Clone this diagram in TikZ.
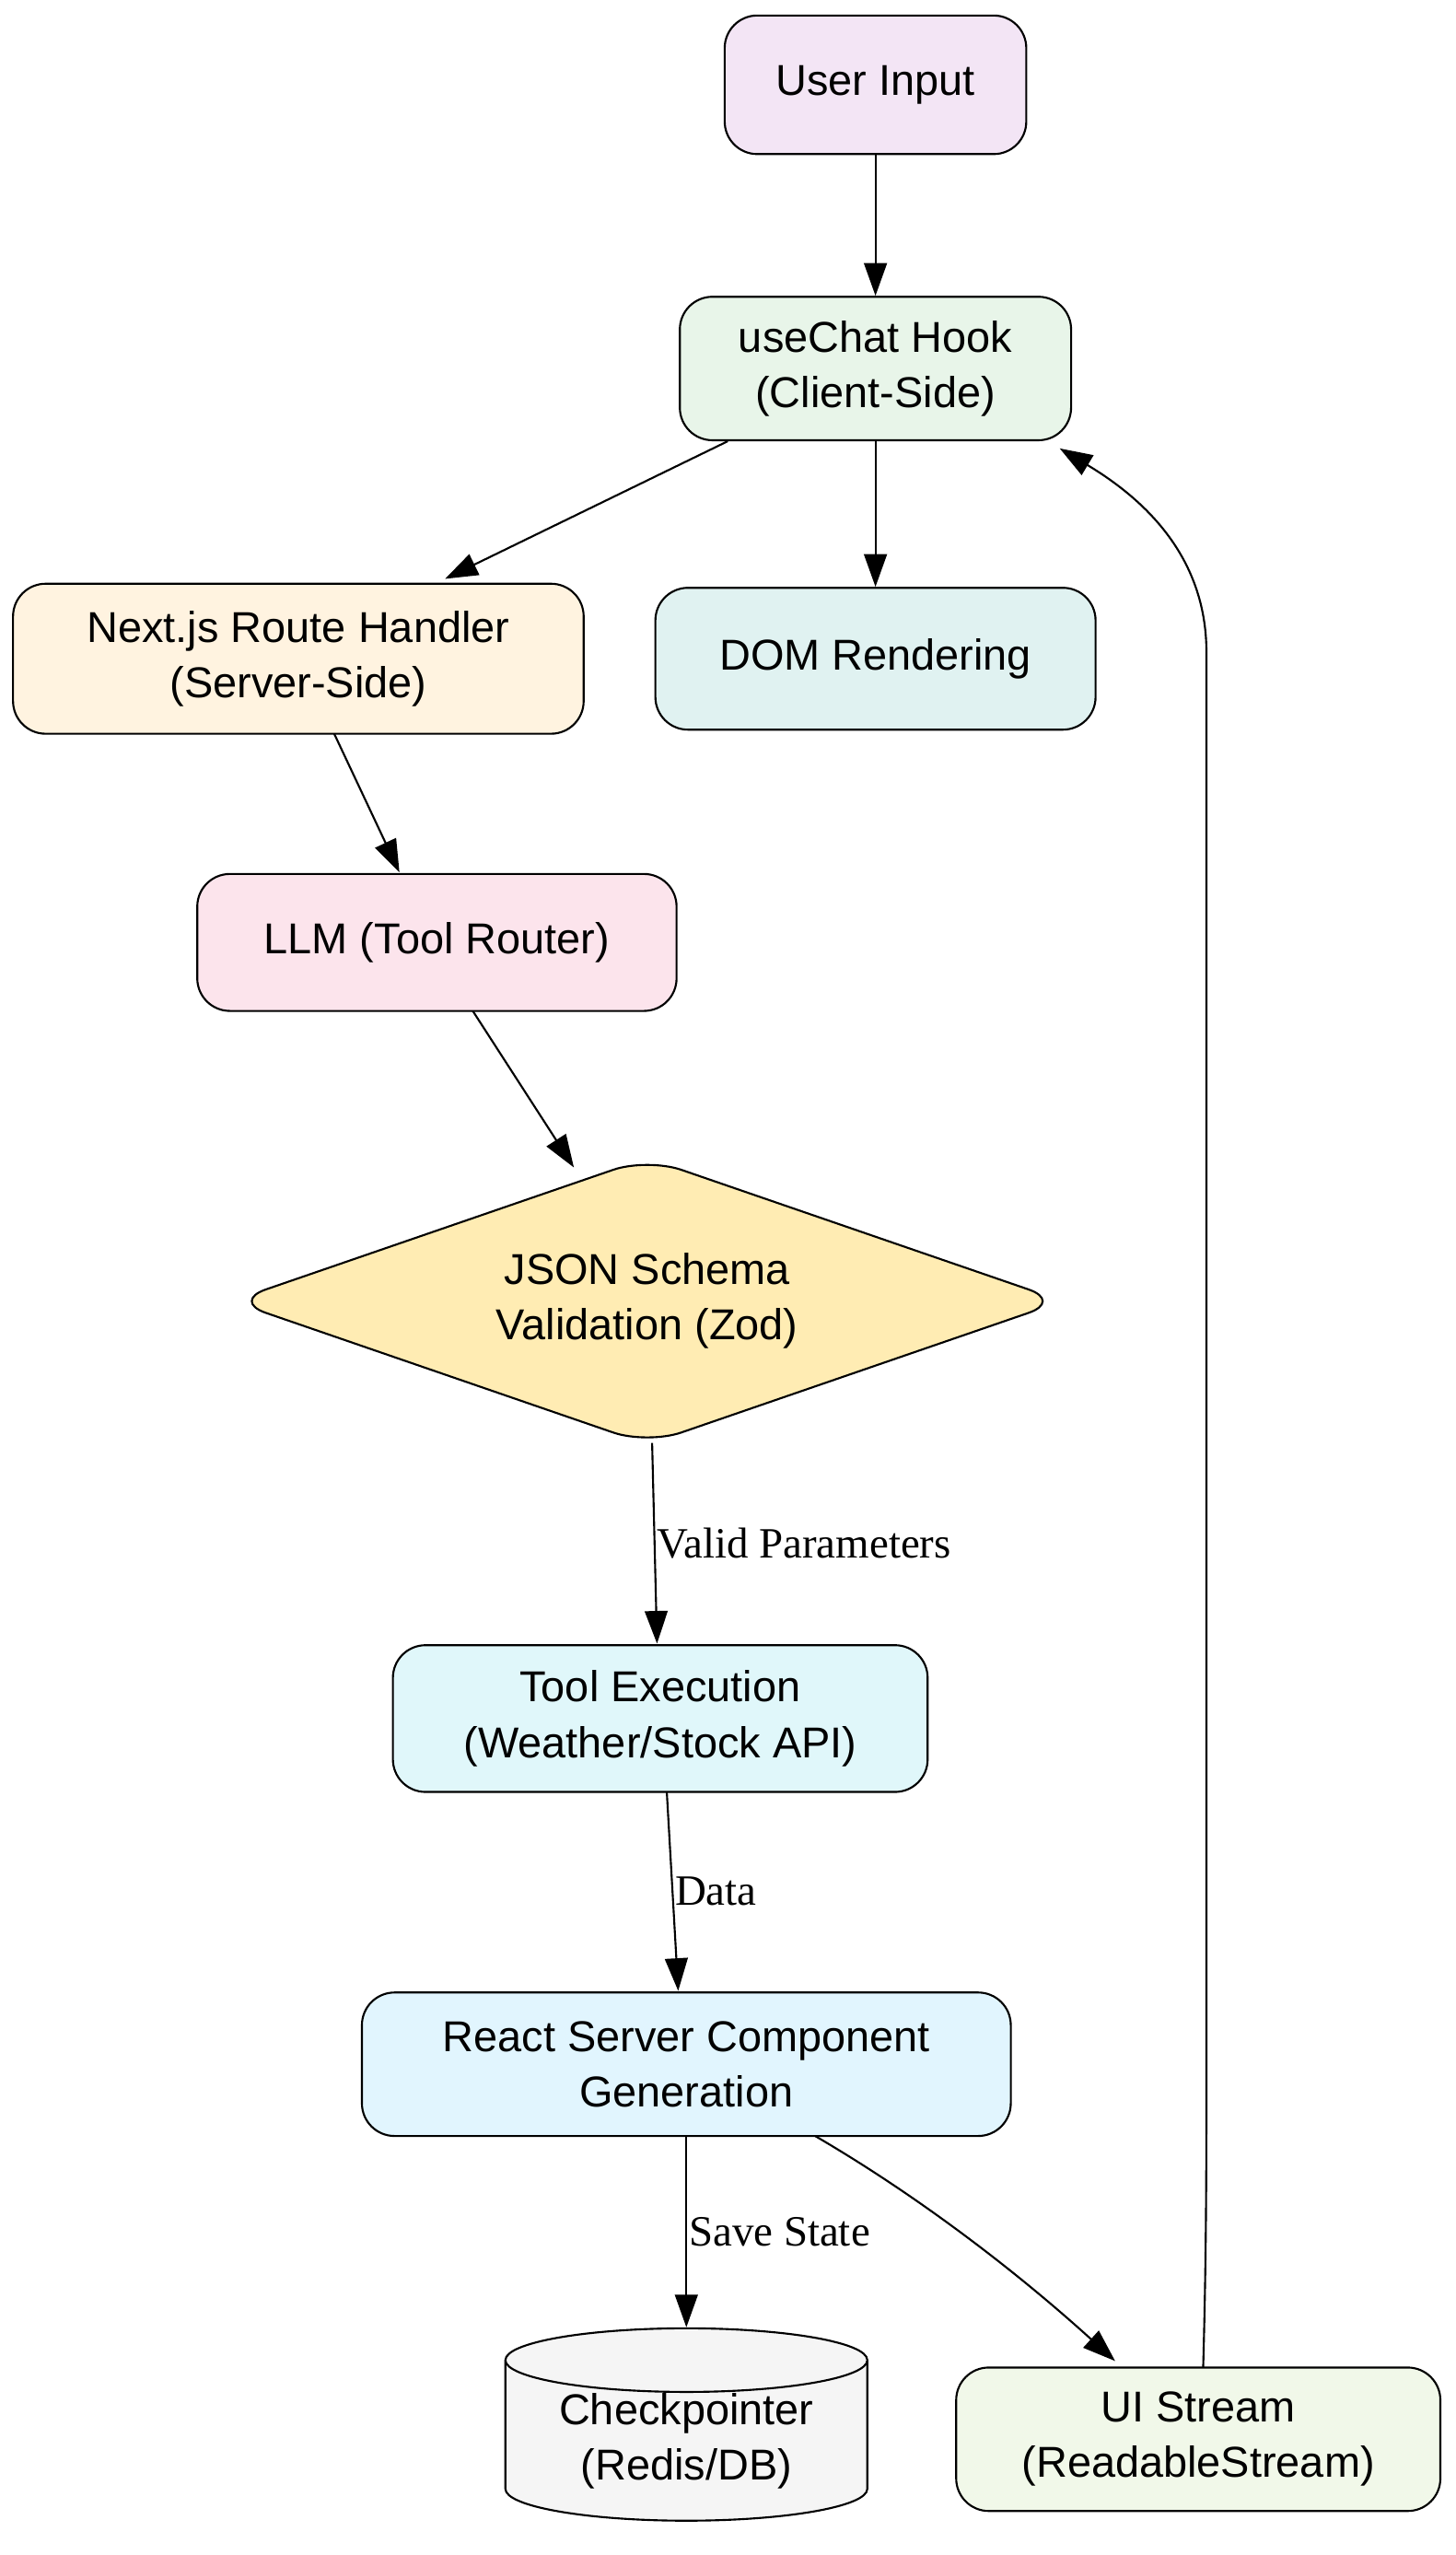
\documentclass[tikz,border=0pt]{standalone}
\usepackage{fontspec}
\setmainfont{Liberation Sans}
\newfontfamily\lblfont{Liberation Serif}
\usetikzlibrary{shapes.geometric,arrows.meta}
\definecolor{cUI}{HTML}{F3E5F5}
\definecolor{cUC}{HTML}{E8F5E9}
\definecolor{cNX}{HTML}{FFF3E0}
\definecolor{cDOM}{HTML}{E0F2F1}
\definecolor{cLLM}{HTML}{FCE4EC}
\definecolor{cJS}{HTML}{FFECB3}
\definecolor{cTE}{HTML}{E0F7FA}
\definecolor{cRS}{HTML}{E1F5FE}
\definecolor{cCP}{HTML}{F5F5F5}
\definecolor{cUS}{HTML}{F1F8E9}
\begin{document}
\begin{tikzpicture}[x=1pt,y=-1pt,
 box/.style={draw,line width=1.2pt,rounded corners=20pt,align=center,font=\fontsize{26.5}{34}\selectfont,inner sep=0pt},
 arr/.style={line width=1.2pt,-{Triangle[length=20pt,width=14pt]}},
 lbl/.style={font=\lblfont\fontsize{26.5}{30}\selectfont,anchor=west,inner sep=1pt}]
\useasboundingbox (0,0) rectangle (893,1567);
\node[box,fill=cUI,minimum width=185pt,minimum height=85pt] (ui) at (537,52) {User Input};
\node[box,fill=cUC,minimum width=240pt,minimum height=88pt] (uc) at (537,226) {useChat Hook\\(Client-Side)};
\node[box,fill=cNX,minimum width=350pt,minimum height=92pt] (nx) at (183,404) {Next.js Route Handler\\(Server-Side)};
\node[box,fill=cDOM,minimum width=270pt,minimum height=87pt] (dom) at (537,404) {DOM Rendering};
\node[box,fill=cLLM,minimum width=294pt,minimum height=84pt] (llm) at (268,578) {LLM (Tool Router)};
\node[draw,line width=1.2pt,diamond,aspect=2.9,rounded corners=22pt,minimum width=510pt,minimum height=176pt,inner sep=0pt,fill=cJS,align=center,font=\fontsize{26.5}{34}\selectfont] (js) at (397,798) {JSON Schema\\Validation (Zod)};
\node[box,fill=cTE,minimum width=328pt,minimum height=90pt] (te) at (405,1054) {Tool Execution\\(Weather/Stock API)};
\node[box,fill=cRS,minimum width=398pt,minimum height=88pt] (rs) at (421,1266) {React Server Component\\Generation};
\node[draw,line width=1.2pt,cylinder,shape border rotate=90,aspect=0.25,minimum width=222pt,minimum height=118pt,fill=cCP,align=center,font=\fontsize{26.5}{34}\selectfont,inner sep=0pt] (cp) at (421,1497) {Checkpointer\\(Redis/DB)};
\node[box,fill=cUS,minimum width=297pt,minimum height=88pt] (us) at (735,1496) {UI Stream\\(ReadableStream)};
\draw[arr] (ui) -- (uc);
\draw[arr] (uc.south west) ++(30,0) -- (273,355);
\draw[arr] (uc) -- (dom);
\draw[arr] (205,450) -- (245,535);
\draw[arr] (290,620) -- (352,716);
\draw[arr] (400,885) -- (403,1008) node[lbl,midway] {Valid Parameters};
\draw[arr] (409,1099) -- (416,1221) node[lbl,midway] {Data};
\draw[arr] (rs) -- (cp.north) node[lbl,midway] {Save State};
\draw[arr] (500,1310) .. controls (560,1345) and (620,1390) .. (684,1448);
\draw[arr] (738,1452) .. controls (740,1380) and (740,1330) .. (740,1250) -- (740,400) .. controls (740,340) and (700,305) .. (650,275);
\end{tikzpicture}
\end{document}
